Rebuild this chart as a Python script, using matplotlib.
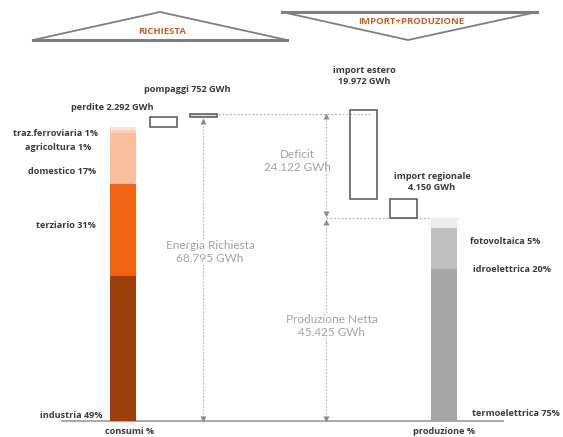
import matplotlib
matplotlib.use('Agg')
import matplotlib.pyplot as plt
from matplotlib.patches import Rectangle, Polygon

plt.rcParams['font.family'] = ['Lato', 'DejaVu Sans']

# energy balance, GWh
richiesta = 68795
perdite = 2292
pompaggi = 752
import_estero = 19972
import_regionale = 4150
produzione = 45425
deficit = 24122
consumi = richiesta - perdite - pompaggi

cons_labels = ['industria 49%', 'terziario 31%', 'domestico 17%', 'agricoltura 1%', 'traz.ferroviaria 1%']
cons_share = [49, 31, 17, 1, 1]
cons_colors = ['#9c3f0a', '#ee6212', '#f9bf9c', '#fbd0b6', '#fde3d4']

prod_labels = ['termoelettrica 75%', 'idroelettrica 20%', 'fotovoltaica 5%']
prod_share = [75, 20, 5]
prod_colors = ['#a6a6a6', '#c0c0c0', '#ededed']

K = 223.8          # GWh per pixel
BASE = 421         # baseline, pixels from top


def py(p):
    # pixel row (from top) -> data y
    return (BASE - p) * K


fig = plt.figure(figsize=(5.63, 4.37), dpi=100)
ax = fig.add_axes([0, 0, 1, 1])
ax.set_xlim(0, 563)
ax.set_ylim(py(437), py(0))
ax.axis('off')

dark = '#3a3a3a'
grey_txt = '#a3a3a3'
arrow_c = '#8c8c8c'
bold_font = ['Open Sans', 'DejaVu Sans']

# header triangles
ax.add_patch(Polygon([(33, py(40)), (160, py(12)), (287, py(40))], closed=True,
                     fill=False, ec='#7f7f7f', lw=1.3))
ax.plot([33, 287], [py(40), py(40)], color='#7f7f7f', lw=2.2)
ax.text(162, py(31), 'RICHIESTA', color='#c0622a', fontsize=6.8, fontweight='bold',
        family=bold_font, ha='center', va='center')
ax.add_patch(Polygon([(282, py(12)), (408, py(40)), (537, py(12))], closed=True,
                     fill=False, ec='#7f7f7f', lw=1.3))
ax.plot([282, 537], [py(12), py(12)], color='#7f7f7f', lw=2.2)
ax.text(411, py(21), 'IMPORT+PRODUZIONE', color='#c0622a', fontsize=6.8, fontweight='bold',
        family=bold_font, ha='center', va='center')

# baseline
ax.plot([62, 503], [0, 0], color='#9a9a9a', lw=1.2, zorder=1)

# consumption stack
bottom = 0
for share, col in zip(cons_share, cons_colors):
    h = consumi * share / sum(cons_share)
    ax.bar(123, h, width=26, bottom=bottom, color=col, zorder=2)
    bottom += h

# losses and pumping
ax.add_patch(Rectangle((150, consumi), 27, perdite, fill=False, ec='#555555', lw=1.1, zorder=3))
ax.add_patch(Rectangle((190, consumi + perdite), 27, pompaggi, fc='#e4e4e4', ec='#555555',
                       lw=1.1, zorder=3))

# imports
ax.add_patch(Rectangle((350, produzione + import_regionale), 27, import_estero, fill=False,
                       ec='#555555', lw=1.1, zorder=3))
ax.add_patch(Rectangle((390, produzione), 27, import_regionale, fill=False,
                       ec='#555555', lw=1.1, zorder=3))

# production stack
bottom = 0
for share, col in zip(prod_share, prod_colors):
    h = produzione * share / 100
    ax.bar(444, h, width=26, bottom=bottom, color=col, zorder=2)
    bottom += h

# dotted guide lines
ax.plot([192, 370], [richiesta, richiesta], color='#b5b5b5', lw=0.9, ls=(0, (1.5, 1.5)), zorder=1)
ax.plot([326, 458], [produzione, produzione], color='#b5b5b5', lw=0.9, ls=(0, (1.5, 1.5)), zorder=1)


def dim_arrow(x, y0, y1):
    ax.plot([x, x], [y0, y1], color='#c4c4c4', lw=0.9, ls=(0, (1.5, 1.2)), zorder=1)
    ax.plot(x, y0 + 500, marker='v', ms=4.5, color=arrow_c, mec='none', zorder=2)
    ax.plot(x, y1 - 500, marker='^', ms=4.5, color=arrow_c, mec='none', zorder=2)


dim_arrow(203, 0, richiesta - 1200)
dim_arrow(326, produzione + 400, richiesta)
dim_arrow(326, 0, produzione - 400)

box = dict(fc='white', ec='none', pad=0.5)
ax.text(210, py(252), 'Energia Richiesta\n68.795 GWh', color=grey_txt, fontsize=8.5,
        ha='center', va='center', linespacing=1.15, bbox=box, zorder=4)
ax.text(297, py(161), 'Deficit\n24.122 GWh', color=grey_txt, fontsize=8.5,
        ha='center', va='center', linespacing=1.15, zorder=4)
ax.text(332, py(326), 'Produzione Netta\n45.425 GWh', color=grey_txt, fontsize=8.5,
        ha='center', va='center', linespacing=1.15, bbox=box, zorder=4)

lab = dict(color=dark, fontsize=6.6, fontweight='bold', family=bold_font, va='center')
ax.text(187, py(90), 'pompaggi 752 GWh', ha='center', **lab)
ax.text(154, py(108), 'perdite 2.292 GWh', ha='right', **lab)
ax.text(98, py(134), cons_labels[4], ha='right', **lab)
ax.text(91, py(148), cons_labels[3], ha='right', **lab)
ax.text(96, py(172), cons_labels[2], ha='right', **lab)
ax.text(96, py(225), cons_labels[1], ha='right', **lab)
ax.text(103, py(415), cons_labels[0], ha='right', **lab)
ax.text(130, py(431), 'consumi %', ha='center', **lab)

ax.text(364, py(76), 'import estero\n19.972 GWh', ha='center', linespacing=1.3, **lab)
ax.text(432, py(182), 'import regionale\n4.150 GWh', ha='center', linespacing=1.3, **lab)

ax.text(470, py(242), prod_labels[2], ha='left', **lab)
ax.text(473, py(270), prod_labels[1], ha='left', **lab)
ax.text(472, py(413), prod_labels[0], ha='left', **lab)
ax.text(444, py(431), 'produzione %', ha='center', **lab)

fig.savefig('out.png', dpi=100)
